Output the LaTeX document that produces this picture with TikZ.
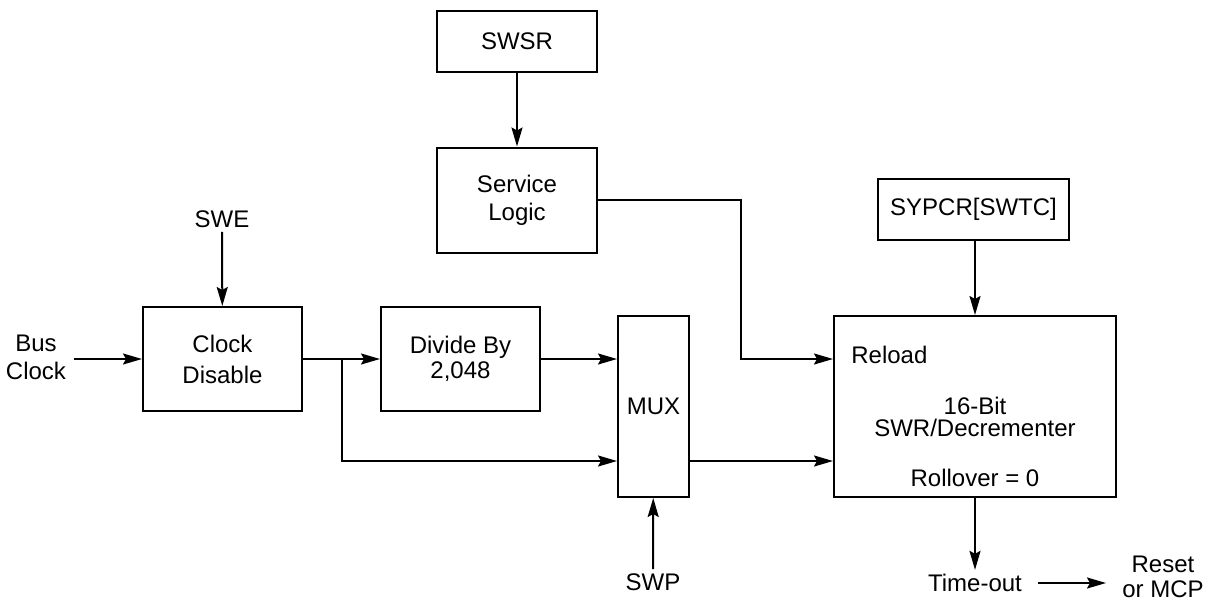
\documentclass[tikz,border=0pt]{standalone}
\usepackage{fontspec}
\setmainfont{Liberation Sans}
\usetikzlibrary{positioning, arrows.meta, calc}

\begin{document}
\begin{tikzpicture}[x=1pt, y=-1pt, node distance=77pt,
    every node/.style={font=\fontsize{24}{28}\selectfont, align=center},
    block/.style={draw, rectangle, line width=2pt, minimum width=159pt, minimum height=104pt, inner sep=2pt},
    >={Stealth[length=19pt, width=11pt, inset=3pt]}, line width=2pt]

    \useasboundingbox (0,0) rectangle (1209,602);

    % Top column
    \node[block, minimum width=160pt, minimum height=61pt] (swsr) at (517,41.5) {SWSR};
    \node[block, minimum width=160pt, minimum height=105pt] (service) at (517,200) {Service\\Logic};

    % Clock chain
    \node[block, font=\fontsize{24}{31}\selectfont] (clock) at (222.5,359) {Clock\\Disable};
    \node[block, font=\fontsize{24}{25}\selectfont, right=77pt of clock] (divide) {Divide By\\2,048};
    \node[block, minimum width=71pt, minimum height=181pt] (mux) at (653.5,406.5) {MUX};

    % Watchdog register
    \node[block, minimum width=191pt, minimum height=61pt] (sypcr) at (973.5,209.5) {SYPCR[SWTC]};
    \node[block, minimum width=282pt, minimum height=181pt] (swr) at (975,406.5) {};
    \node[anchor=west] (reload) at (847,355) {Reload};
    \node[font=\fontsize{24}{22}\selectfont] (count) at (975,417) {16-Bit\\SWR/Decrementer};
    \node (rollover) at (975,478) {Rollover = 0};

    % Inputs and outputs
    \node (swe) at (222,219) {SWE};
    \node (bus) at (36,357) {Bus\\Clock};
    \node (swp) at (653,582) {SWP};
    \node (timeout) at (975,583) {Time-out};
    \node[font=\fontsize{24}{25}\selectfont] (reset) at (1163,577) {Reset\\or MCP};

    \coordinate (split) at ($(clock.east)!0.5!(divide.west)$);
    \coordinate (tap) at (741,0);

    % Connectors
    \draw[->] (swsr) -- (service);
    \draw[->] (service.east) -| (tap |- divide.east) -- (swr.west |- divide.east);
    \draw[->] (sypcr.south -| swr.north) -- (swr.north);
    \draw[->] (swe) -- (clock);
    \draw[->] ([xshift=4pt]bus.east |- clock.west) -- (clock.west);
    \draw[->] (clock) -- (divide);
    \draw[->] (split) |- ([yshift=-54.5pt]mux.west);
    \draw[->] (divide.east) -- (mux.west |- divide.east);
    \draw[->] ([yshift=-54.5pt]mux.east) -- ([yshift=-54.5pt]swr.west);
    \draw[->] (swp) -- (mux);
    \draw[->] (swr.south) -- (timeout.north);
    \draw[->] ([xshift=12pt]timeout.east) -- ([xshift=-12pt]reset.west |- timeout.east);

\end{tikzpicture}
\end{document}
